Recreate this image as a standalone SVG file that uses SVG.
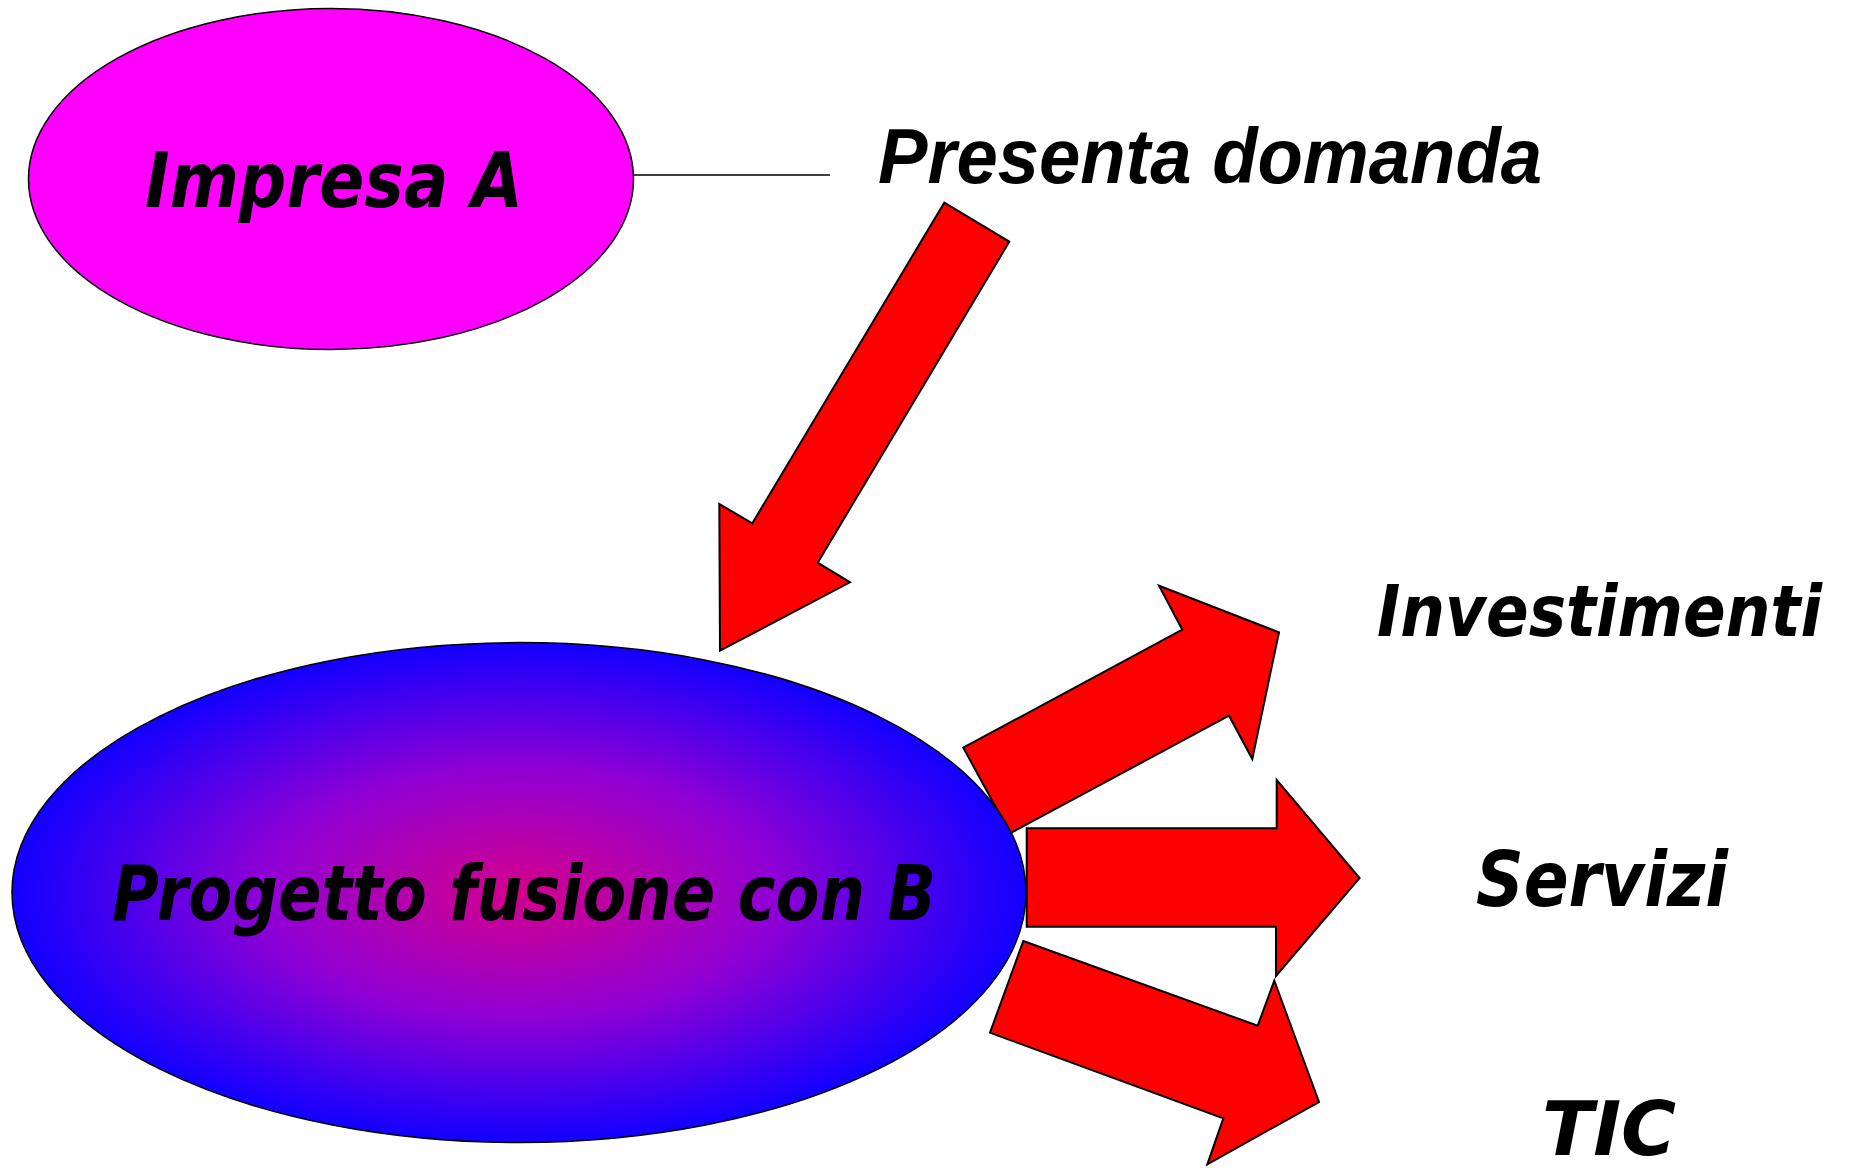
<svg xmlns="http://www.w3.org/2000/svg" width="1849" height="1172" viewBox="0 0 1849 1172">
<defs>
<radialGradient id="gBlue" cx="0.5" cy="0.5" r="0.5">
<stop offset="0" stop-color="#d4008c"/>
<stop offset="0.5" stop-color="#9000d4"/>
<stop offset="1" stop-color="#1200ff"/>
</radialGradient>
</defs>
<style>
.comic{font-family:"DejaVu Sans Condensed","DejaVu Sans",sans-serif;font-weight:bold;font-style:oblique;fill:#000}
.arial{font-family:"Liberation Sans",Arial,sans-serif;font-weight:bold;font-style:italic;fill:#000}
.arrow{fill:#ff0000;stroke:#000;stroke-width:2;stroke-linejoin:miter}
</style>
<rect width="1849" height="1172" fill="#ffffff"/>
<g id="connectors">
<line x1="633" y1="175" x2="830" y2="175" stroke="#000" stroke-width="1.5"/>
<polygon class="arrow" points="944.3,202.7 1009.3,241.7 817.7,562.7 850,582.3 720,650.7 719.3,504 752.3,523.3"/>
<polygon class="arrow" points="963.3,747.7 1182.3,629.7 1159,585.7 1279,632.3 1252.3,759 1229,715.7 1010,833.3"/>
<polygon class="arrow" points="1026.7,828.3 1276.7,828.3 1276.7,780 1359.6,878 1276,976 1276,926.7 1026.7,926.7"/>
<polygon class="arrow" points="1023.3,941 1257.7,1025.7 1274.3,980.7 1319,1102 1207.3,1164.3 1223.3,1118.3 990,1032.7"/>
</g>
<g id="node-impresa">
<ellipse cx="331" cy="179" rx="302.5" ry="170.5" fill="#ff00ff" stroke="#000" stroke-width="1.5"/>
<text class="comic" x="145" y="207" font-size="76" textLength="378" lengthAdjust="spacingAndGlyphs">Impresa A</text>
</g>
<g id="label-presenta">
<text class="arial" x="878" y="183" font-size="77" textLength="664" lengthAdjust="spacingAndGlyphs">Presenta domanda</text>
</g>
<g id="node-progetto">
<ellipse cx="519" cy="892.6" rx="507" ry="250" fill="url(#gBlue)" stroke="#000" stroke-width="1.5"/>
<text class="comic" x="112" y="920" font-size="77" textLength="824" lengthAdjust="spacingAndGlyphs">Progetto fusione con B</text>
</g>
<g id="node-investimenti">
<text class="comic" x="1377" y="636" font-size="72" textLength="445" lengthAdjust="spacingAndGlyphs">Investimenti</text>
</g>
<g id="node-servizi">
<text class="comic" x="1476" y="906" font-size="77" textLength="252" lengthAdjust="spacingAndGlyphs">Servizi</text>
</g>
<g id="node-tic">
<text class="comic" x="1542" y="1155" font-size="74" textLength="134" lengthAdjust="spacingAndGlyphs">TIC</text>
</g>
</svg>
